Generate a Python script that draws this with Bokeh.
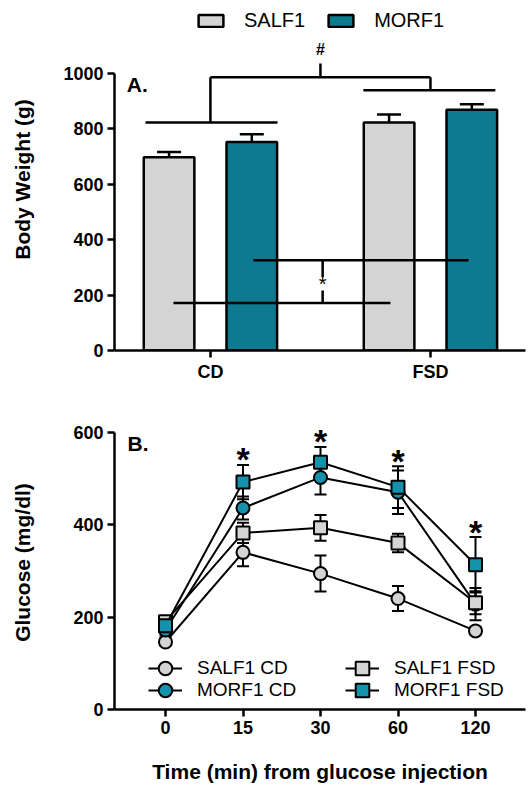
import numpy as np
from bokeh.plotting import figure
from bokeh.models import (ColumnDataSource, Whisker, Legend, LegendItem, FixedTicker,
                          Label, Range1d, TeeHead)
from bokeh.layouts import column
from bokeh.embed import file_html
from bokeh.resources import INLINE
from bokeh.core.properties import value

FONT = "Liberation Sans"

# ---------------- Panel A data ----------------
diets = ["CD", "FSD"]
strains = ["SALF1", "MORF1"]
bw_salf1 = [697, 822]
bw_salf1_err = [19, 29]
bw_morf1 = [752, 868]
bw_morf1_err = [28, 20]

# ---------------- Panel B data ----------------
times = ["0", "15", "30", "60", "120"]
glu_salf1_cd = [146, 340, 294, 240, 170]
glu_salf1_cd_err = [8, 30, 39, 27, 8]
glu_morf1_cd = [172, 436, 502, 470, 228]
glu_morf1_cd_err = [12, 25, 37, 47, 35]
glu_salf1_fsd = [190, 382, 393, 360, 231]
glu_salf1_fsd_err = [12, 22, 28, 20, 25]
glu_morf1_fsd = [181, 492, 535, 481, 313]
glu_morf1_fsd_err = [15, 37, 33, 45, 60]
sig_times = ["15", "30", "60", "120"]

GRAY = "#d4d4d4"
TEAL_BAR = "#0e7a8f"
TEAL_PT = "#1592ab"
W = 529


def style_axes(p, ylabel, xlabel=None, ylab_standoff=26):
    p.outline_line_color = None
    p.grid.visible = False
    for ax in (p.xaxis[0], p.yaxis[0]):
        ax.axis_line_width = 2.5
        ax.major_tick_line_width = 2.5
        ax.major_tick_out = 7
        ax.major_tick_in = 0
        ax.minor_tick_line_color = None
        ax.major_label_text_font = FONT
        ax.major_label_text_font_size = "18px"
        ax.major_label_text_font_style = "bold"
        ax.major_label_text_color = "black"
        ax.major_label_standoff = 4
        ax.axis_label_text_font = FONT
        ax.axis_label_text_font_size = "21px"
        ax.axis_label_text_font_style = "bold"
        ax.axis_label_text_color = "black"
    p.yaxis[0].axis_label = ylabel
    p.yaxis[0].axis_label_standoff = ylab_standoff
    if xlabel:
        p.xaxis[0].axis_label = xlabel
        p.xaxis[0].axis_label_standoff = 23


# ================= Panel A =================
pA = figure(width=W, height=395, output_backend="svg", toolbar_location=None,
            x_range=Range1d(-0.436, 1.432), y_range=Range1d(0, 1233),
            min_border_left=114, min_border_right=4, min_border_top=8,
            min_border_bottom=45)
style_axes(pA, "Body Weight (g)")
pA.yaxis[0].ticker = FixedTicker(ticks=[0, 200, 400, 600, 800, 1000])
pA.yaxis[0].bounds = (0, 1000)
pA.xaxis[0].ticker = FixedTicker(ticks=list(range(len(diets))))
pA.xaxis[0].major_label_overrides = {i: d for i, d in enumerate(diets)}

xc = np.arange(len(diets), dtype=float)
off = 0.188
srcA = ColumnDataSource(dict(
    xs=xc - off, xm=xc + off,
    s=bw_salf1, m=bw_morf1,
    s_lo=np.array(bw_salf1) - np.array(bw_salf1_err),
    s_hi=np.array(bw_salf1) + np.array(bw_salf1_err),
    m_lo=np.array(bw_morf1) - np.array(bw_morf1_err),
    m_hi=np.array(bw_morf1) + np.array(bw_morf1_err),
))
r_s = pA.vbar(x="xs", top="s", width=0.23, source=srcA, fill_color=GRAY,
              line_color="black", line_width=2.5)
r_m = pA.vbar(x="xm", top="m", width=0.23, source=srcA, fill_color=TEAL_BAR,
              line_color="black", line_width=2.5)
for base, lo, hi in (("xs", "s_lo", "s_hi"), ("xm", "m_lo", "m_hi")):
    w = Whisker(base=base, lower=lo, upper=hi, source=srcA, line_width=2.5,
                line_color="black",
                upper_head=TeeHead(size=24, line_width=2.5, line_color="black"),
                lower_head=TeeHead(size=24, line_width=2.5, line_color="black"))
    pA.add_layout(w)

# significance brackets (annotation positions)
br_x0 = [-0.295, 0.0, 0.0, 1.0, 0.695, 0.5, 0.195, -0.168, 0.51, 0.51]
br_y0 = [822, 822, 985, 938, 938, 985, 325, 171, 325, 171]
br_x1 = [0.305, 0.0, 1.0, 1.0, 1.295, 0.5, 1.173, 0.818, 0.51, 0.51]
br_y1 = [822, 985, 985, 985, 938, 1035, 325, 171, 265, 216]
pA.segment(x0=br_x0, y0=br_y0, x1=br_x1, y1=br_y1, line_color="black",
           line_width=2.5)
pA.text(x=[0.5], y=[1085], text=["#"], text_font=value(FONT),
        text_font_size="16px", text_font_style="bold", text_align="center",
        text_baseline="alphabetic", text_color="black")
pA.text(x=[0.51], y=[240], text=["*"], text_font=value(FONT),
        text_font_size="20px", text_align="center",
        text_baseline="alphabetic", text_color="black")
pA.add_layout(Label(x=-0.38, y=960, text="A.", text_font=FONT,
                    text_font_size="21px", text_font_style="bold",
                    text_baseline="middle", text_color="black"))

legA = Legend(items=[LegendItem(label=strains[0], renderers=[r_s]),
                     LegendItem(label=strains[1], renderers=[r_m])],
              orientation="horizontal", location=(81, 318),
              glyph_width=31, glyph_height=15, label_height=20,
              label_standoff=18, spacing=20, padding=0, margin=0,
              background_fill_alpha=0, border_line_color=None,
              label_text_font=FONT, label_text_font_size="20px",
              label_text_color="black")
pA.add_layout(legA)

# ================= Panel B =================
pB = figure(width=W, height=390, output_backend="svg", toolbar_location=None,
            x_range=Range1d(-0.658, 4.645), y_range=Range1d(0, 636),
            min_border_left=114, min_border_right=4, min_border_top=20,
            min_border_bottom=76)
style_axes(pB, "Glucose (mg/dl)", "Time (min) from glucose injection",
           ylab_standoff=36)
pB.yaxis[0].ticker = FixedTicker(ticks=[0, 200, 400, 600])
pB.yaxis[0].bounds = (0, 600)
pB.xaxis[0].ticker = FixedTicker(ticks=list(range(len(times))))
pB.xaxis[0].major_label_overrides = {i: t for i, t in enumerate(times)}

xt = np.arange(len(times), dtype=float)
series = [
    ("SALF1 CD", glu_salf1_cd, glu_salf1_cd_err, "circle", GRAY),
    ("MORF1 CD", glu_morf1_cd, glu_morf1_cd_err, "circle", TEAL_PT),
    ("SALF1 FSD", glu_salf1_fsd, glu_salf1_fsd_err, "square", GRAY),
    ("MORF1 FSD", glu_morf1_fsd, glu_morf1_fsd_err, "square", TEAL_PT),
]
rend = {}
for name, vals, errs, mk, col in series:
    v = np.array(vals, dtype=float)
    e = np.array(errs, dtype=float)
    src = ColumnDataSource(dict(x=xt, y=v, lo=v - e, hi=v + e))
    wk = Whisker(base="x", lower="lo", upper="hi", source=src, line_width=2,
                 line_color="black", level="underlay",
                 upper_head=TeeHead(size=12, line_width=2, line_color="black"),
                 lower_head=TeeHead(size=12, line_width=2, line_color="black"))
    pB.add_layout(wk)
    ln = pB.line("x", "y", source=src, line_color="black", line_width=2)
    sc = pB.scatter("x", "y", source=src, marker=mk, size=13, fill_color=col,
                    line_color="black", line_width=2)
    rend[name] = (ln, sc)

# significance stars above the highest error bar
all_hi = np.max([np.array(s[1]) + np.array(s[2]) for s in series], axis=0)
sig_idx = [times.index(t) for t in sig_times]
star_y = [all_hi[i] + 12 for i in sig_idx]
pB.text(x=[xt[i] for i in sig_idx], y=star_y, text=["*"] * len(sig_idx),
        text_font=value(FONT), text_font_size="34px", text_font_style="bold",
        text_align="center", text_baseline="alphabetic", text_color="black")
pB.add_layout(Label(x=-0.49, y=575, text="B.", text_font=FONT,
                    text_font_size="21px", text_font_style="bold",
                    text_baseline="middle", text_color="black"))

leg_common = dict(glyph_width=34, glyph_height=34, label_height=20,
                  label_standoff=15, spacing=0, padding=0, margin=0,
                  background_fill_alpha=0, border_line_color=None,
                  label_text_font=FONT, label_text_font_size="19px",
                  label_text_color="black")
# legend placement (screen px from frame bottom-left): two columns, two rows
leg_pos = {"SALF1 CD": (34, 24), "MORF1 CD": (34, 2),
           "SALF1 FSD": (231, 24), "MORF1 FSD": (231, 2)}
for n, loc in leg_pos.items():
    pB.add_layout(Legend(items=[LegendItem(label=n, renderers=list(rend[n]))],
                         location=loc, **leg_common))

layout = column(pA, pB, spacing=0)
open("out.html", "w").write(file_html(layout, INLINE))
